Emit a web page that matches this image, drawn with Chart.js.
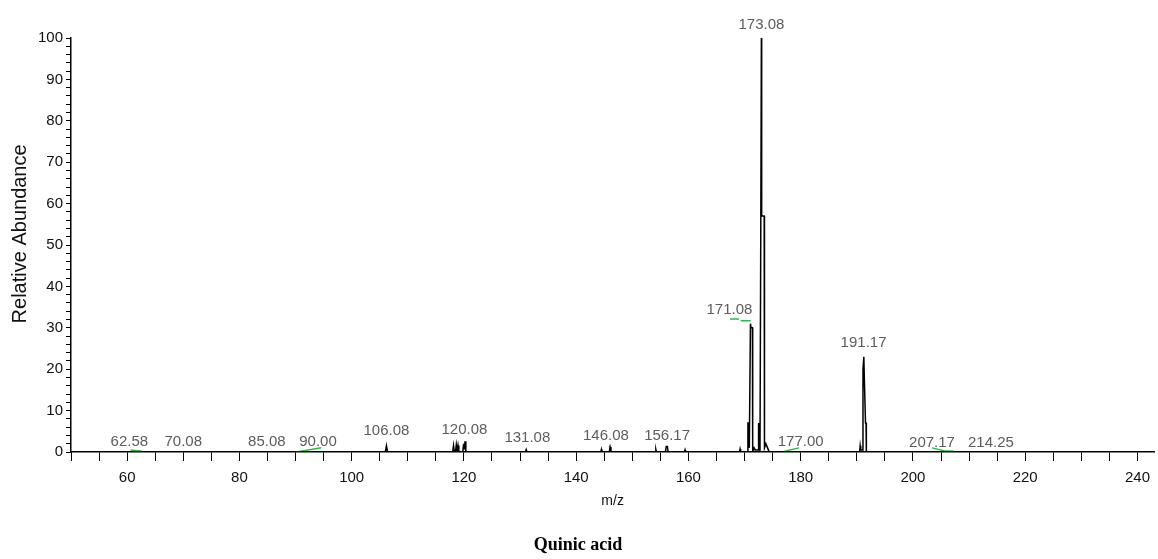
<!DOCTYPE html>
<html>
<head>
<meta charset="utf-8">
<script src="https://cdn.jsdelivr.net/npm/chart.js@4.4.1/dist/chart.umd.min.js"></script>
<style>
  html, body { margin: 0; padding: 0; background: #fff; }
</style>
</head>
<body>
<canvas id="spectrumChart" width="1158" height="559"></canvas>
<script>
// profile trace (m/z, relative abundance)
const mzValues = [
  50, 106.0, 106.2, 106.4,
  118.0, 118.15, 118.3, 118.5, 118.65, 118.8, 118.95, 119.1, 119.8, 119.95, 120.05, 120.2, 120.35,
  130.95, 131.1, 131.25,
  144.4, 144.5, 144.6, 145.9, 146.05, 146.2, 146.3,
  154.05, 154.2, 154.3, 155.9, 156.05, 156.25, 156.4,
  159.3, 159.4, 159.5, 169.1, 169.2, 169.3,
  170.5, 170.6, 170.75, 170.85, 170.95, 171.05, 171.15, 171.4, 171.45, 171.7, 171.9,
  172.4, 172.5, 172.65, 172.75, 172.9, 173.0, 173.05, 173.5, 173.55, 173.8, 174.1, 174.4,
  190.5, 190.6, 190.7, 191.0, 191.1, 191.25, 191.3, 191.55, 191.65, 191.7,
  243
];
const abundance = [
  0, 0, 1.5, 0,
  0, 1.6, 0, 0, 1.8, 0.3, 1.6, 0, 0, 2.0, 0.6, 2.6, 0,
  0, 0.6, 0,
  0, 0.6, 0, 0, 1.2, 0.3, 0,
  0, 0.6, 0, 0, 1.3, 1.3, 0,
  0, 0.5, 0, 0, 0.7, 0,
  0, 7, 7, 1, 1, 31, 30, 30, 0, 1, 0.5,
  0.5, 7, 1, 0.5, 57, 100, 57, 57, 1, 2, 1, 0,
  0, 1.5, 0.5, 0.5, 20, 23, 20, 7, 7, 0,
  0
];

// short green marks under some labels (null = gap)
const greenMz = [60.6, 62.7, null, 90.05, 92, 94.6, null, 145.9, 146.1, null,
  167.4, 169.0, null, 169.3, 171.1, null, 177.1, 179.7, null, 203.4, 205.5, 207.3];
const greenAbundance = [0.5, 0.2, null, 0, 0.4, 1.0, null, 1.5, 1.0, null,
  32.1, 32.1, null, 31.7, 31.7, null, 0.2, 1.0, null, 1.0, 0.3, 0.2];

// peak annotations
const peakLabels = ['62.58', '70.08', '85.08', '90.00', '106.08', '120.08', '131.08', '146.08',
  '156.17', '171.08', '173.08', '177.00', '191.17', '207.17', '214.25'];
const labelMz = [60.4, 70.0, 84.9, 94.0, 106.2, 120.1, 131.3, 145.3, 156.2, 167.3, 173.0, 180.0, 191.2, 203.4, 213.9];
const labelAbundance = [2.4, 2.4, 2.4, 2.4, 5.1, 5.3, 3.4, 3.9, 3.9, 34.3, 103.1, 2.4, 26.3, 2.2, 2.2];

const xTickLabels = [60, 80, 100, 120, 140, 160, 180, 200, 220, 240];
const yTickLabels = [0, 10, 20, 30, 40, 50, 60, 70, 80, 90, 100];

const peakLabelPlugin = {
  id: 'peakLabels',
  afterDatasetsDraw(chart) {
    const { ctx, scales: { x, y } } = chart;
    ctx.save();
    ctx.font = '15px "Liberation Sans", Arial, sans-serif';
    ctx.fillStyle = '#5c5c5c';
    ctx.textAlign = 'center';
    ctx.textBaseline = 'middle';
    peakLabels.forEach((t, i) => {
      ctx.fillText(t, x.getPixelForValue(labelMz[i]), y.getPixelForValue(labelAbundance[i]));
    });
    ctx.restore();
  }
};

const ctx = document.getElementById('spectrumChart').getContext('2d');

const spectrumChart = new Chart(ctx, {
  type: 'line',
  data: {
    datasets: [{
      label: 'Quinic acid',
      data: mzValues.map((m, i) => ({ x: m, y: abundance[i] })),
      borderColor: '#000',
      borderWidth: 1.5,
      pointRadius: 0,
      tension: 0,
      fill: false
    }, {
      label: 'marks',
      data: greenMz.map((m, i) => ({ x: m, y: greenAbundance[i] })),
      borderColor: '#2fb84a',
      borderWidth: 1.5,
      pointRadius: 0,
      tension: 0,
      fill: false,
      spanGaps: false
    }]
  },
  options: {
    responsive: false,
    animation: false,
    layout: { padding: { top: 38, right: 2, bottom: 0, left: 0 } },
    plugins: {
      legend: { display: false },
      tooltip: { enabled: false },
      title: {
        display: true,
        position: 'bottom',
        text: 'Quinic acid',
        color: '#000',
        font: { family: '"Liberation Serif", "Times New Roman", serif', size: 18, weight: 'bold' },
        padding: { top: 22.4, bottom: 3 }
      }
    },
    scales: {
      x: {
        type: 'linear',
        min: 50,
        max: 243,
        afterBuildTicks: scale => {
          const ticks = [];
          for (let v = 50; v <= 240; v += 5) ticks.push({ value: v });
          scale.ticks = ticks;
        },
        afterFit: scale => { scale.height = 60; },
        ticks: {
          autoSkip: false,
          maxRotation: 0,
          padding: 8,
          color: '#111',
          font: { family: '"Liberation Sans", Arial, sans-serif', size: 15 },
          callback: v => xTickLabels.includes(v) ? v : ''
        },
        grid: { drawOnChartArea: false, drawTicks: true, tickLength: 9, tickColor: '#000' },
        border: { color: '#000', width: 1.5 },
        title: {
          display: true,
          text: 'm/z',
          color: '#111',
          font: { family: '"Liberation Sans", Arial, sans-serif', size: 14 },
          padding: { top: 0, bottom: 2 }
        }
      },
      y: {
        min: 0,
        max: 100,
        afterBuildTicks: scale => {
          const ticks = [];
          for (let v = 0; v <= 100; v += 2) ticks.push({ value: v });
          scale.ticks = ticks;
        },
        afterFit: scale => { scale.width = 71; },
        ticks: {
          autoSkip: false,
          padding: 3,
          color: '#111',
          font: { family: '"Liberation Sans", Arial, sans-serif', size: 15 },
          callback: v => yTickLabels.includes(v) ? v : ''
        },
        grid: { drawOnChartArea: false, drawTicks: true, tickLength: 5, tickColor: '#000' },
        border: { color: '#000', width: 1.5 },
        title: {
          display: true,
          text: '    Relative Abundance',
          color: '#111',
          font: { family: '"Liberation Sans", Arial, sans-serif', size: 20 },
          padding: { top: 8, bottom: 0 }
        }
      }
    }
  },
  plugins: [peakLabelPlugin]
});
</script>
</body>
</html>
